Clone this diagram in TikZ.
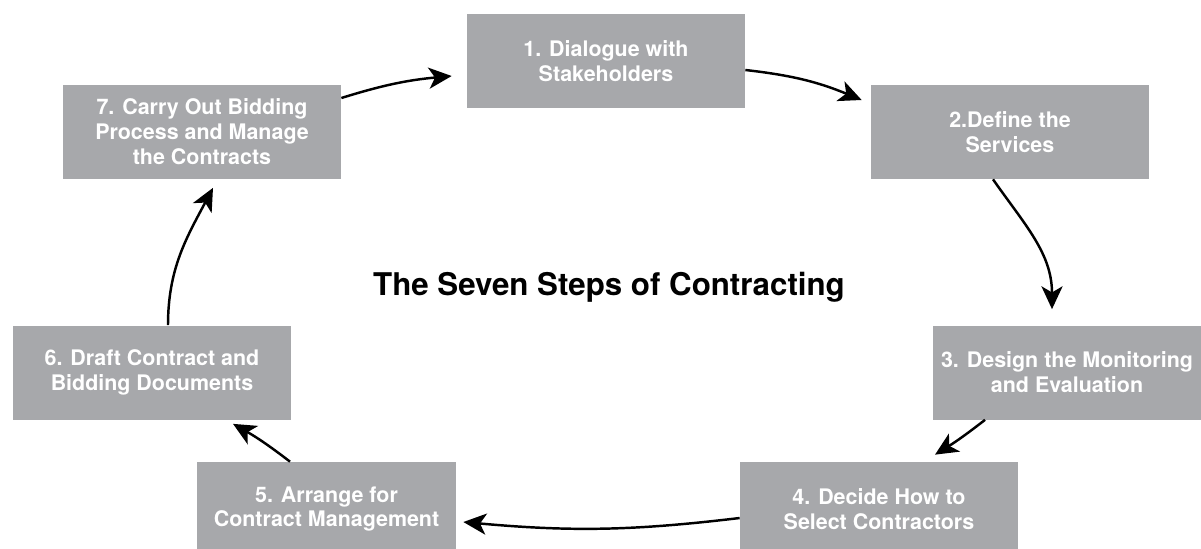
\documentclass[tikz,border=0pt]{standalone}
\usepackage[HTML]{xcolor}
\usepackage{fontspec}
\setmainfont{TeX Gyre Heros}
\usepackage{tikz}
\usetikzlibrary{positioning, arrows.meta}

\definecolor{boxgray}{HTML}{A7A8AB}

\tikzset{
  stepbox/.style={fill=boxgray, text=white, align=center, inner sep=0pt,
    minimum width=5.56cm, minimum height=1.88cm,
    font=\fontsize{12.2}{14.2}\selectfont\bfseries},
  cyc/.style={-{Stealth[length=13pt, width=12pt, inset=3.5pt]}, line width=1.4pt}
}

\begin{document}
\begin{tikzpicture}
\useasboundingbox (0,0) rectangle (24.02,-10.96);
\clip (0,0) rectangle (24.02,-10.96);
% the seven steps
\node[stepbox] (s1) at (12.12,-1.22) {1. Dialogue with\\Stakeholders};
\node[stepbox] (s2) at (20.20,-2.64) {2.Define the\\Services};
\node[stepbox, minimum width=5.36cm] (s3) at (21.34,-7.45) {3. Design the Monitoring\\and Evaluation};
\node[stepbox] (s4) at (17.58,-10.18) {4. Decide How to\\Select Contractors};
\node[stepbox, minimum width=5.18cm] (s5) at (6.53,-10.18) {5. Arrange for\\Contract Management};
\node[stepbox] (s6) at (3.04,-7.45) {6. Draft Contract and\\Bidding Documents};
\node[stepbox] (s7) at (4.04,-2.63) {7. Carry Out Bidding\\Process and Manage\\the Contracts};
% title
\node[anchor=base, font=\fontsize{17.8}{20}\selectfont\bfseries] (title) at (12.18,-5.9) {The Seven Steps of Contracting};
% arrows round the cycle
\draw[cyc] ([yshift=-0.18cm]s1.east) to[bend left=8] ([shift={(-0.18,0.64)}]s2.west);
\draw[cyc] ([xshift=-0.34cm]s2.south) to[out=-55, in=90] ([shift={(-0.30,0.32)}]s3.north);
\draw[cyc] ([xshift=-1.64cm]s3.south) to[bend left=3] ([shift={(1.12,0.14)}]s4.north);
\draw[cyc] ([yshift=-0.18cm]s4.west) to[bend left=6] ([shift={(0.14,-0.26)}]s5.east);
\draw[cyc] ([xshift=-0.73cm]s5.north) to[bend right=4] ([shift={(1.62,-0.08)}]s6.south);
\draw[cyc] ([xshift=0.32cm]s6.north) to[out=90, in=-118] ([shift={(0.22,-0.18)}]s7.south);
\draw[cyc] ([yshift=0.67cm]s7.east) to[bend left=6] ([shift={(-0.30,-0.30)}]s1.west);
\end{tikzpicture}
\end{document}
